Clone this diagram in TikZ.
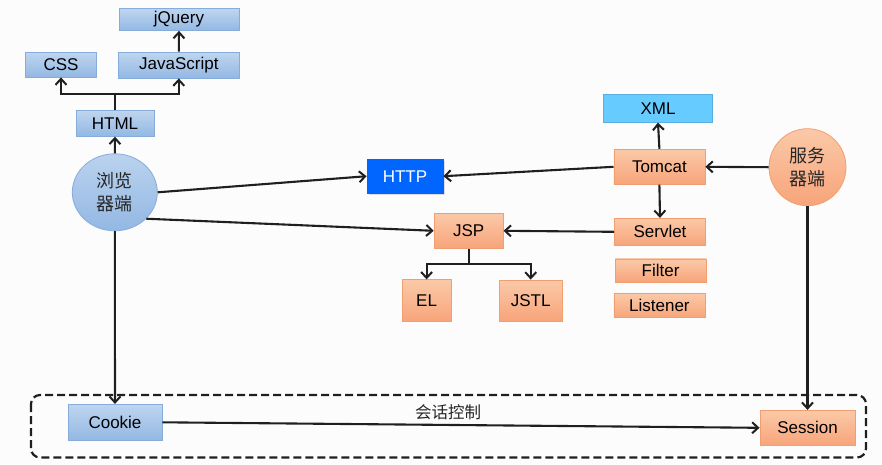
\documentclass[tikz,border=0pt]{standalone}
\usepackage{fontspec}
\setmainfont{Liberation Sans}
\newfontfamily\cjk{Noto Sans CJK SC}
\usetikzlibrary{arrows.meta,shapes.geometric,shadows}
\definecolor{bluetop}{HTML}{BFD5EF}
\definecolor{bluebot}{HTML}{93B8E3}
\definecolor{blueline}{HTML}{86ACDB}
\definecolor{orgtop}{HTML}{FBC9A8}
\definecolor{orgbot}{HTML}{F7A47A}
\definecolor{orgline}{HTML}{F0A070}
\definecolor{xmlfill}{HTML}{66CCFF}
\definecolor{xmlline}{HTML}{5AAFE0}
\definecolor{httpfill}{HTML}{0066FF}
\definecolor{httpline}{HTML}{1A5FD6}
\definecolor{bgc}{HTML}{FCFCFC}
\begin{document}
\begin{tikzpicture}[x=1pt,y=-1pt,
  txt/.style={font=\fontsize{17}{20}\selectfont, text=black},
  cjktxt/.style={font=\cjk\fontsize{18}{23}\selectfont, text=black!85, align=center},
  bbox/.style={txt, rectangle, draw=blueline, line width=0.8pt, top color=bluetop, bottom color=bluebot, inner sep=0pt},
  obox/.style={txt, rectangle, draw=orgline, line width=0.8pt, top color=orgtop, bottom color=orgbot, inner sep=0pt},
  arr/.style={-{Straight Barb[length=6pt,width=11pt,line width=2pt]}, line width=2.1pt, draw=black!88},
]
\useasboundingbox[fill=bgc] (0,0) rectangle (882,464);

% left (browser) side
\node[bbox, minimum width=120pt, minimum height=22pt] (jq) at (179,19.5) {jQuery};
\node[bbox, minimum width=71pt, minimum height=25pt] (css) at (61,64.5) {CSS};
\node[bbox, minimum width=121pt, minimum height=26pt] (js) at (178.8,65) {JavaScript};
\node[bbox, minimum width=78pt, minimum height=26pt] (html) at (115,123.3) {HTML};
\node[ellipse, draw=blueline, line width=0.8pt, top color=bluetop!90!bluebot, bottom color=bluebot, minimum width=85pt, minimum height=77pt, inner sep=0pt, cjktxt] (b) at (114.8,192.3) {浏览\\器端};

% middle
\node[txt, rectangle, draw=httpline, line width=0.8pt, fill=httpfill, text=white, minimum width=76pt, minimum height=34pt, inner sep=0pt, drop shadow={opacity=0.25, shadow xshift=1.5pt, shadow yshift=-1.5pt}] (http) at (405,176.2) {HTTP};
\node[obox, minimum width=69pt, minimum height=35pt] (jsp) at (468.6,230.8) {JSP};
\node[obox, minimum width=49pt, minimum height=42pt] (el) at (426.6,300.8) {EL};
\node[obox, minimum width=63pt, minimum height=41pt] (jstl) at (530.7,300.5) {JSTL};

% right (server) side
\node[txt, rectangle, draw=xmlline, line width=0.8pt, fill=xmlfill, minimum width=109pt, minimum height=28pt, inner sep=0pt] (xml) at (658,108.2) {XML};
\node[obox, minimum width=91pt, minimum height=35pt] (tom) at (659.4,166.8) {Tomcat};
\node[obox, minimum width=91pt, minimum height=27pt] (sv) at (660,231.8) {Servlet};
\node[obox, minimum width=91pt, minimum height=23pt] (flt) at (660.6,270.4) {Filter};
\node[obox, minimum width=91pt, minimum height=24.5pt] (lis) at (659.4,305.5) {Listener};
\node[circle, draw=orgline, line width=0.8pt, top color=orgtop, bottom color=orgbot, minimum size=77pt, inner sep=0pt, cjktxt] (srv) at (807.5,167.2) {服务\\器端};

% bottom
\node[bbox, minimum width=94pt, minimum height=36pt] (ck) at (115,422.3) {Cookie};
\node[obox, minimum width=95pt, minimum height=35pt] (ss) at (807.5,427.8) {Session};
\node[font=\cjk\fontsize{16.5}{20}\selectfont, text=black!85] (lbl) at (448,412) {会话控制};
\draw[dash pattern=on 8pt off 4pt, line width=2.2pt, draw=black!88, rounded corners=9pt] (31,395) rectangle (866,457.5);

% connectors
\coordinate (jn) at (115,94.3);
\coordinate (jj) at (468.6,264);
\draw[arr] (b.north) -- (html.south);
\draw[arr] (html.north) -- (jn) -| (css.south);
\draw[arr] (jn) -| (js.south);
\draw[arr] (js.north) -- (jq.south);
\draw[arr] (b.east) -- (http.west);
\draw[arr] (b.-40) -- (jsp.west);
\draw[arr] (b.south) -- (ck.north);
\draw[arr] (tom.west) -- (http.east);
\draw[arr] (srv.west) -- (tom.east);
\draw[arr] (tom.north) -- (xml.south);
\draw[arr] (tom.south) -- (sv.north);
\draw[arr] (sv.west) -- (jsp.east);
\draw[arr] (jsp.south) -- (jj) -| (el.north);
\draw[arr] (jj) -| (jstl.north);
\draw[arr] (srv.south) -- (ss.north);
\draw[arr] (ck.east) -- (ss.west);
\end{tikzpicture}
\end{document}
